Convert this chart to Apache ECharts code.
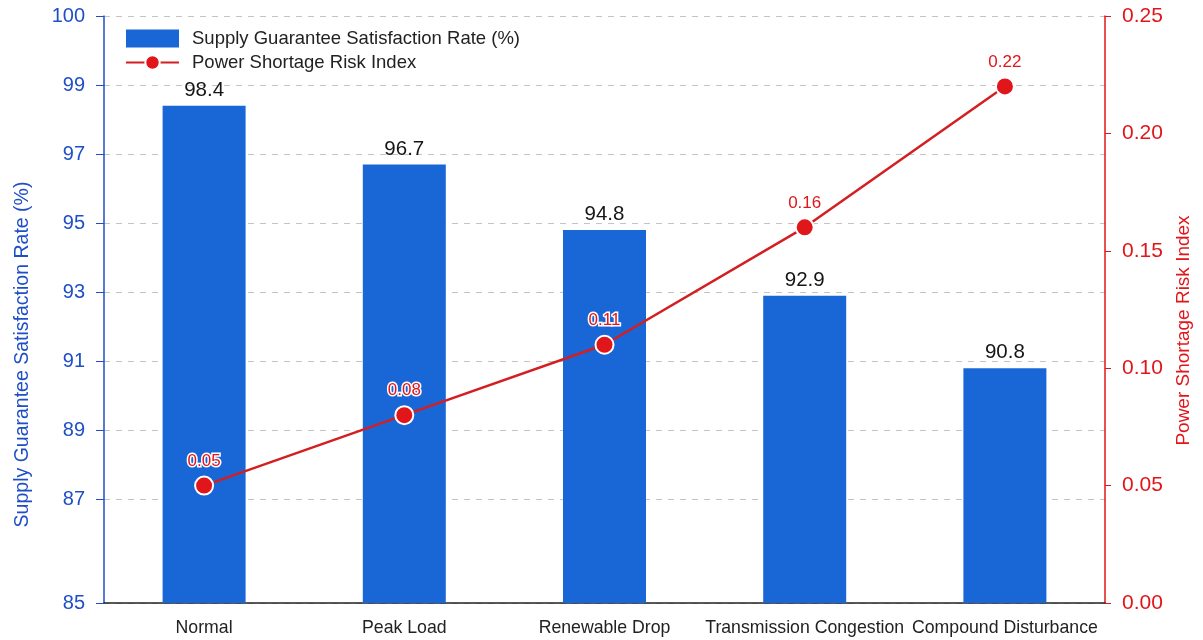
<!DOCTYPE html>
<html lang="en">
<head>
	<meta charset="UTF-8">
	<title>Supply guarantee vs shortage risk</title>
	<script src="https://cdn.jsdelivr.net/npm/echarts@6/dist/echarts.min.js"></script>
</head>
<body style="margin:0;background:#fff;">
	<div id="chart" style="width:1203px;height:640px;"></div>
	<script>
		// scenarios on the x axis
		var scenarios = ['Normal', 'Peak Load', 'Renewable Drop', 'Transmission Congestion', 'Compound Disturbance'];
		// supply guarantee satisfaction rate (%)
		var satisfaction = [98.4, 96.7, 94.8, 92.9, 90.8];
		// power shortage risk index
		var riskIndex = [0.05, 0.08, 0.11, 0.16, 0.22];

		// left axis labels as printed (uneven spacing in the original, one slot per unit)
		var leftTicks = ['85', '', '', '87', '', '89', '', '91', '', '93', '', '95', '', '97', '', '99', '', '100'];
		// right axis range
		var riskMin = 0, riskMax = 0.25, riskStep = 0.05;

		var blue = '#1f4fc6';
		var barBlue = '#1967d6';
		var red = '#e0161b';

		var myChart = echarts.init(document.getElementById('chart'));

		var showTick = function (i, v) { return v !== ''; };

		var option = {
			animation: false,
			textStyle: { fontFamily: 'Liberation Sans, Arial, sans-serif' },
			grid: { left: 104, right: 98, top: 16, bottom: 37 },
			legend: {
				orient: 'vertical',
				left: 120,
				top: 24,
				itemWidth: 53,
				itemHeight: 18,
				itemGap: 5,
				textStyle: { fontSize: 18.5, color: '#222', padding: [0, 0, 0, 8] },
				data: [
					{ name: 'Supply Guarantee Satisfaction Rate (%)', icon: 'rect' },
					{ name: 'Power Shortage Risk Index' }
				]
			},
			xAxis: {
				type: 'category',
				data: scenarios,
				axisLine: { lineStyle: { color: '#222', width: 1.5 } },
				axisTick: { show: false },
				axisLabel: { fontSize: 17.7, color: '#222', margin: 16, interval: 0 }
			},
			yAxis: [
				{
					// label axis, left side
					type: 'category',
					data: leftTicks,
					boundaryGap: false,
					position: 'left',
					name: 'Supply Guarantee Satisfaction Rate (%)',
					nameLocation: 'middle',
					nameGap: 71,
					nameTextStyle: { color: blue, fontSize: 19.5, padding: [0, 90, 0, 0] },
					axisLine: { show: true, lineStyle: { color: blue, width: 1.5 } },
					axisTick: { show: true, interval: showTick, length: 8, lineStyle: { color: blue } },
					axisLabel: { interval: 0, color: blue, fontSize: 20, margin: 19 },
					splitLine: {
						show: true,
						interval: showTick,
						lineStyle: { color: '#c4c4c4', type: [6, 6], width: 1 }
					}
				},
				{
					// value scale for the bars, lined up with the label slots
					type: 'value',
					min: 84,
					max: 101,
					show: false,
					splitLine: { show: false }
				},
				{
					type: 'value',
					position: 'right',
					min: riskMin,
					max: riskMax,
					interval: riskStep,
					name: 'Power Shortage Risk Index',
					nameLocation: 'middle',
					nameGap: 68,
					nameTextStyle: { color: red, fontSize: 19, padding: [0, 42, 0, 0] },
					axisLine: { show: true, lineStyle: { color: red, width: 1.5 } },
					axisTick: { show: true, length: 6, lineStyle: { color: red } },
					axisLabel: {
						color: red, fontSize: 21, margin: 17,
						formatter: function (v) { return v.toFixed(2); }
					},
					splitLine: { show: false }
				}
			],
			series: [
				{
					name: 'Supply Guarantee Satisfaction Rate (%)',
					type: 'bar',
					yAxisIndex: 1,
					data: satisfaction,
					barWidth: 83,
					itemStyle: { color: barBlue },
					label: {
						show: true,
						position: 'top',
						distance: 5,
						fontSize: 20.5,
						color: '#161616',
						formatter: function (p) { return p.value.toFixed(1); }
					},
					z: 2
				},
				{
					name: 'Power Shortage Risk Index',
					type: 'line',
					yAxisIndex: 2,
					data: riskIndex,
					symbol: 'circle',
					symbolSize: 18,
					lineStyle: { color: '#d41f22', width: 2.5 },
					itemStyle: { color: red, borderColor: '#fff', borderWidth: 2 },
					label: {
						show: true,
						position: 'top',
						distance: 6,
						fontSize: 17,
						color: red,
						textBorderColor: '#fff',
						textBorderWidth: 3,
						formatter: function (p) { return p.value.toFixed(2); }
					},
					z: 5
				}
			]
		};

		myChart.setOption(option);
	</script>
</body>
</html>
